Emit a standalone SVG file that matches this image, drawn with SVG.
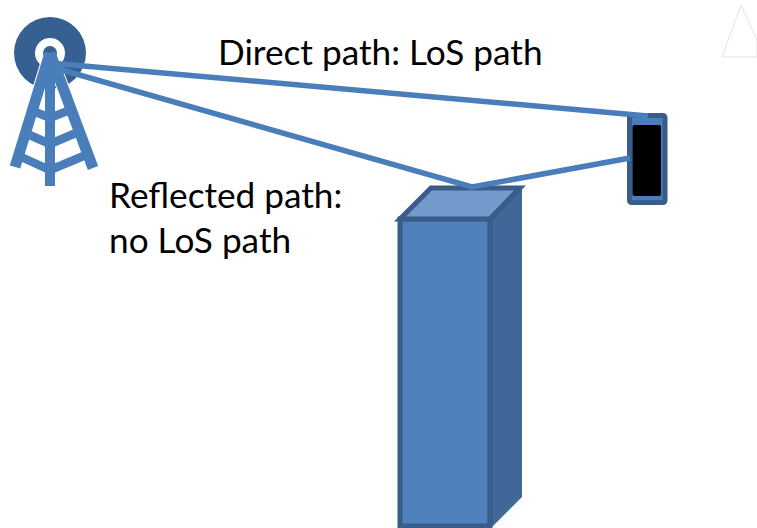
<svg xmlns="http://www.w3.org/2000/svg" width="757" height="528" viewBox="0 0 757 528">
<style>
text{font-family:"Lato","Open Sans",sans-serif;font-size:35.2px;fill:#000}
.t{fill:none;stroke:#4a7ebb;stroke-width:10}
.l{fill:none;stroke:#4a7ebb;stroke-width:11}
.r{fill:none;stroke:#4a7ebb;stroke-width:8.5}
.c{fill:none;stroke:#4a7ebb;stroke-width:5.5}
.b{stroke:#385d8a;stroke-width:5;stroke-linejoin:miter}
</style>
<rect width="757" height="528" fill="#fff"/>
<g id="triangle"><path d="M741 5L722 57H757V40Z" fill="#fff" stroke="#e4e4e4" stroke-width="1"/></g>
<g id="tower">
<circle cx="50" cy="53" r="36" fill="#376092"/>
<circle cx="50" cy="53" r="15" fill="#fff"/>
<path d="M50 53L15 167M50 53L93 168" fill="none" stroke="#fff" stroke-width="13"/>
<circle cx="50" cy="53" r="7" fill="#376092"/>
<path class="l" d="M50 53L15 167M50 53L93 168"/>
<path class="t" d="M50 58V186"/>
<path class="r" d="M33 111L50 118L70 110M25 133L50 144L76 133M19 156L50 170L86 155"/>
</g>
<g id="building">
<path class="b" fill="#4f81bd" d="M400 219H490V526H400Z"/>
<path class="b" fill="#729aca" d="M400 219L431 188H520L490 219Z"/>
<path fill="#3f6797" d="M490 219L522 186V497L491 528H490Z"/>
<path class="b" fill="none" d="M490 219L520 188M490 219V526"/>
</g>
<g id="phone">
<rect x="629.5" y="115.5" width="35.5" height="87" rx="2" fill="#4a7ebb" stroke="#385d8a" stroke-width="5"/>
<rect x="632.5" y="125" width="28.5" height="71" rx="2" fill="#000"/>
</g>
<g id="connectors">
<path class="c" d="M50 63L648 116"/>
<path class="c" d="M55 68L472 187L630 158"/>
</g>
<g id="labels">
<text x="218" y="65">Direct path: LoS path</text>
<text x="109" y="208">Reflected path:</text>
<text x="109" y="253">no LoS path</text>
</g>
</svg>
